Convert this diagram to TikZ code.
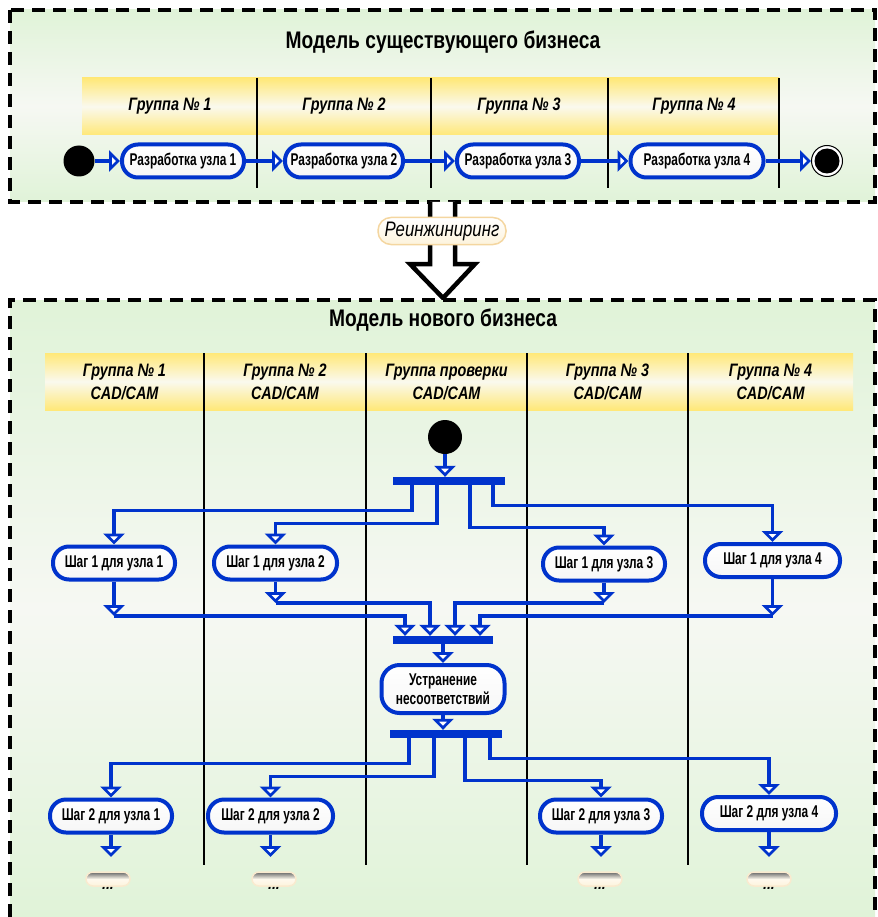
\documentclass[tikz,border=0pt]{standalone}
\usepackage{fontspec}
\setmainfont{Liberation Sans}
\newfontfamily\narrowfont[FakeStretch=0.8]{Liberation Sans}
\newfontfamily\slimfont[FakeStretch=0.7]{Liberation Sans}
\usetikzlibrary{arrows.meta, positioning, calc}
\definecolor{flowblue}{RGB}{0, 51, 204}
\definecolor{bggreen}{RGB}{224, 243, 216}
\definecolor{bgpale}{RGB}{246, 248, 243}
\definecolor{hdryellow}{RGB}{255, 232, 120}
\definecolor{hdrpale}{RGB}{250, 249, 238}
\definecolor{tagcream}{RGB}{253, 243, 220}
\definecolor{tagborder}{RGB}{244, 214, 160}

\begin{document}
\begin{tikzpicture}[
    x=1pt, y=-1pt,
    % Node styles
    action/.style={
        rectangle,
        rounded corners=16pt,
        draw=flowblue,
        line width=4pt,
        top color=white,
        bottom color=gray!7,
        minimum height=33pt,
        inner sep=0pt,
        align=center,
        font=\slimfont\bfseries\fontsize{17}{19}\selectfont
    },
    bar/.style={
        rectangle,
        fill=flowblue,
        minimum height=8pt,
        inner sep=0pt
    },
    startdot/.style={
        circle,
        fill=black,
        minimum size=31pt,
        inner sep=0pt
    },
    lane/.style={
        align=center,
        font=\narrowfont\bfseries\itshape\fontsize{18}{23}\selectfont
    },
    title/.style={
        font=\narrowfont\bfseries\fontsize{24}{30}\selectfont
    },
    flow/.style={
        -{Triangle[length=11pt, width=21pt, fill=white]},
        line width=3.5pt,
        draw=flowblue
    },
    moretag/.style={
        rectangle,
        rounded corners=7pt,
        draw=tagborder!50,
        line width=1.5pt,
        top color=gray!80!black,
        bottom color=tagcream,
        middle color=tagcream!50!white,
        minimum width=44pt,
        minimum height=14pt,
        inner sep=0pt
    }
]
\useasboundingbox (0,0) rectangle (877,917);

% ============================================
% EXISTING BUSINESS (top)
% ============================================
\shade[top color=bggreen, bottom color=bggreen, middle color=bgpale] (10,10) rectangle (875,202);
\draw[line width=3.5pt, dash pattern=on 13pt off 8pt] (10,10) rectangle (875,202);
\node[title] (oldtitle) at (443,42) {Модель существующего бизнеса};

% lane headers
\shade[top color=hdryellow, bottom color=hdryellow, middle color=hdrpale] (82,78) rectangle (779,135);
\foreach \x in {257,431,608,779}
    \draw[line width=1.8pt] (\x,78) -- (\x,188);
\node[lane] (oldlane1) at (170,106) {Группа № 1};
\node[lane] (oldlane2) at (344,106) {Группа № 2};
\node[lane] (oldlane3) at (519,106) {Группа № 3};
\node[lane] (oldlane4) at (694,106) {Группа № 4};

% flow
\node[startdot] (start) at (79,161) {};
\node[action, minimum width=122pt] (dev1) at (183,161) {Разработка узла 1};
\node[action, minimum width=118pt] (dev2) at (344,161) {Разработка узла 2};
\node[action, minimum width=122pt] (dev3) at (518,161) {Разработка узла 3};
\node[action, minimum width=133pt] (dev4) at (697,161) {Разработка узла 4};
\node[circle, draw=black, line width=1pt, fill=white, minimum size=31pt, inner sep=0pt] (finish) at (827,161) {};
\node[startdot, minimum size=25pt] (finishdot) at (827,161) {};

\draw[flow] (start.east) -- (dev1.west);
\draw[flow] (dev1.east) -- (dev2.west);
\draw[flow] (dev2.east) -- (dev3.west);
\draw[flow] (dev3.east) -- (dev4.west);
\draw[flow] (dev4.east) -- (finish.west);

% ============================================
% REENGINEERING ARROW
% ============================================
\draw[line width=4.5pt, fill=white, line join=miter] (430,202) -- (430,264) -- (410,264) -- (443,298) -- (475,264) -- (455,264) -- (455,202);
\node[rectangle, rounded corners=13pt, draw=tagborder, line width=1.5pt, top color=white, bottom color=tagcream,
      minimum width=128pt, minimum height=27pt, inner sep=0pt, font=\narrowfont\itshape\fontsize{21}{24}\selectfont]
      (reeng) at (442,231) {Реинжиниринг};

% ============================================
% NEW BUSINESS (bottom)
% ============================================
\shade[top color=bggreen, bottom color=bggreen, middle color=bgpale] (10,300) rectangle (875,917);
\draw[line width=3.5pt, dash pattern=on 13pt off 8pt] (10,917) -- (10,300) -- (875,300) -- (875,917);
\node[title] (newtitle) at (443,320) {Модель нового бизнеса};

% lane headers
\shade[top color=hdryellow, bottom color=hdryellow, middle color=hdrpale] (45,353) rectangle (853,410);
\foreach \x in {204,366,527,688}
    \draw[line width=1.8pt] (\x,353) -- (\x,865);
\node[lane] (newlane1) at (124.5,382) {Группа № 1\\CAD/CAM};
\node[lane] (newlane2) at (285,382) {Группа № 2\\CAD/CAM};
\node[lane] (newlane3) at (446.5,382) {Группа проверки\\CAD/CAM};
\node[lane] (newlane4) at (607.5,382) {Группа № 3\\CAD/CAM};
\node[lane] (newlane5) at (770.5,382) {Группа № 4\\CAD/CAM};

% start and first fork
\node[startdot, minimum width=32pt, minimum height=34pt] (start2) at (445,437) {};
\node[bar, minimum width=112pt] (fork1) at (449,481) {};
\draw[flow] (start2.south) -- (start2.south |- fork1.north);

% step 1
\node[action, minimum width=122pt] (stepA1) at (114,563) {Шаг 1 для узла 1};
\node[action, minimum width=123pt] (stepA2) at (275.5,563) {Шаг 1 для узла 2};
\node[action, minimum width=122pt] (stepA3) at (604,564) {Шаг 1 для узла 3};
\node[action, minimum width=135pt] (stepA4) at (772.5,560.5) {Шаг 1 для узла 4};

\draw[flow] ([xshift=-37pt]fork1.south) -- ++(0,25.5) -| (stepA1.north);
\draw[flow] ([xshift=-12pt]fork1.south) -- ++(0,38.5) -| (stepA2.north);
\draw[flow] ([xshift=21pt]fork1.south) -- ++(0,42.5) -| (stepA3.north);
\draw[flow] ([xshift=44pt]fork1.south) -- ++(0,20.5) -| (stepA4.north);

% join
\node[bar, minimum width=100pt] (join1) at (443,640) {};
\coordinate (outA1) at (114,616);
\coordinate (outA2) at (275.5,603);
\coordinate (outA3) at (604,603);
\coordinate (outA4) at (772.5,616);
\draw[flow] (stepA1.south) -- (outA1);
\draw[flow] (stepA2.south) -- (outA2);
\draw[flow] (stepA3.south) -- (outA3);
\draw[flow] (stepA4.south) -- (outA4);
\draw[flow] (outA1) -| ([xshift=-38pt]join1.north);
\draw[flow] (outA2) -| ([xshift=-13pt]join1.north);
\draw[flow] (outA3) -| ([xshift=12pt]join1.north);
\draw[flow] (outA4) -| ([xshift=37pt]join1.north);

% fix mismatches
\node[action, rounded corners=18pt, minimum width=123pt, minimum height=48pt] (fix) at (443,689) {Устранение\\несоответствий};
\draw[flow] (join1.south) -- (join1.south |- fix.north);

% second fork
\node[bar, minimum width=112pt] (fork2) at (446,734) {};
\draw[flow] (fix.south) -- (fix.south |- fork2.north);

% step 2
\node[action, minimum width=122pt] (stepB1) at (111,816) {Шаг 2 для узла 1};
\node[action, minimum width=125pt] (stepB2) at (270.5,816) {Шаг 2 для узла 2};
\node[action, minimum width=122pt] (stepB3) at (601,816) {Шаг 2 для узла 3};
\node[action, minimum width=134pt] (stepB4) at (769,813.5) {Шаг 2 для узла 4};

\draw[flow] ([xshift=-37pt]fork2.south) -- ++(0,25.5) -| (stepB1.north);
\draw[flow] ([xshift=-12pt]fork2.south) -- ++(0,38.5) -| (stepB2.north);
\draw[flow] ([xshift=19pt]fork2.south) -- ++(0,42.5) -| (stepB3.north);
\draw[flow] ([xshift=44pt]fork2.south) -- ++(0,20.5) -| (stepB4.north);

% next steps (cut off)
\coordinate (outB1) at (111,857);
\coordinate (outB2) at (270.5,857);
\coordinate (outB3) at (601,857);
\coordinate (outB4) at (769,857);
\draw[flow] (stepB1.south) -- (outB1);
\draw[flow] (stepB2.south) -- (outB2);
\draw[flow] (stepB3.south) -- (outB3);
\draw[flow] (stepB4.south) -- (outB4);

\node[moretag] (more1) at (108,879) {};
\node[moretag] (more2) at (274,879) {};
\node[moretag] (more3) at (600,879) {};
\node[moretag] (more4) at (769,879) {};
\foreach \m in {1,...,4}
    \node[font=\bfseries\itshape\fontsize{14}{14}\selectfont, inner sep=0pt, below=0pt of more\m] (moretext\m) {...};

\end{tikzpicture}
\end{document}
